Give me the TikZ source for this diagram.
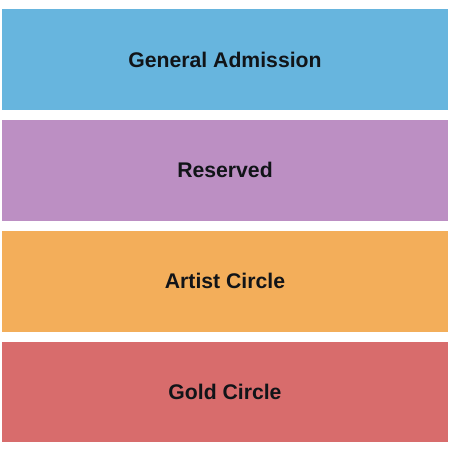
\documentclass[tikz,border=0pt]{standalone}
\usepackage{fontspec}
\setsansfont{Liberation Sans}
\usepackage{tikz}
\usetikzlibrary{positioning}

\definecolor{gablue}{HTML}{67B5DE}
\definecolor{respurple}{HTML}{BC8FC3}
\definecolor{artorange}{HTML}{F3AE5A}
\definecolor{goldred}{HTML}{D86C6C}
\definecolor{labelink}{HTML}{111418}

\begin{document}
\begin{tikzpicture}[x=1pt,y=1pt,node distance=10pt,
  section node/.style={rectangle,draw=none,inner sep=0pt,minimum width=446pt,
    minimum height=100.5pt,text=labelink,
    font=\sffamily\bfseries\fontsize{21.2}{25}\selectfont}]

  \useasboundingbox (0,0) rectangle (450,-450);

  \node[section node,fill=gablue] (ga) at (225,-59.5) {General Admission};
  \node[section node,fill=respurple] (res) [below=of ga] {Reserved};
  \node[section node,fill=artorange] (artist) [below=of res] {Artist Circle};
  \node[section node,fill=goldred] (gold) [below=of artist] {Gold Circle};

\end{tikzpicture}
\end{document}
